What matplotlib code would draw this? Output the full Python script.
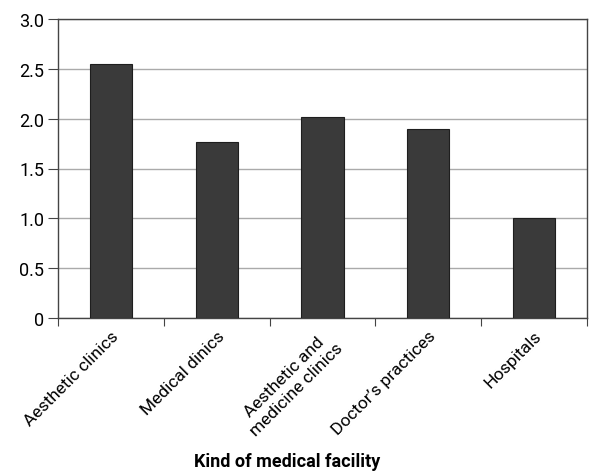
import numpy as np
import matplotlib.pyplot as plt
from matplotlib import font_manager

# data ##############################
categories = ['Aesthetic clinics', 'Medical dinics', 'Aesthetic and\nmedicine clinics',
              "Doctor\u2019s practices", 'Hospitals']
values = [2.55, 1.77, 2.02, 1.90, 1.00]
yticks = [0, 0.5, 1.0, 1.5, 2.0, 2.5, 3.0]
ytick_labels = ['0', '0.5', '1.0', '1.5', '2.0', '2.5', '3.0']
# data_end ##########################

names = {f.name for f in font_manager.fontManager.ttflist}
fam = 'Liberation Sans Narrow' if 'Liberation Sans Narrow' in names else 'Roboto'
plt.rcParams['font.family'] = [fam, 'DejaVu Sans']

fig = plt.figure(figsize=(5.89, 4.77), dpi=100, facecolor='w')
ax = fig.add_axes([58 / 589, 1 - 319 / 477, 529 / 589, 299 / 477])

x = np.arange(len(categories))
ax.bar(x, values, width=0.4, color='#3a3a3a', edgecolor='#1e1e1e', linewidth=0.8, zorder=3)

ax.set_xlim(-0.5, len(categories) - 0.5)
ax.set_ylim(0, 3.0)
ax.set_yticks(yticks)
ax.set_yticklabels(ytick_labels, fontsize=13)
ax.yaxis.grid(True, color='#aaaaaa', linewidth=1.0, zorder=0)

# ticks at category boundaries, labels at centers
ax.set_xticks(np.arange(len(categories) + 1) - 0.5)
ax.set_xticklabels([])
ax.set_xticks(x, minor=True)
ax.set_xticklabels(categories, minor=True, rotation=45, ha='right', va='top',
                   rotation_mode='anchor', fontsize=12.5, multialignment='center')
ax.tick_params(axis='x', which='minor', length=0, pad=7)
ax.tick_params(axis='x', which='major', length=6, color='#444444', direction='out')
ax.tick_params(axis='y', length=7, color='#444444', pad=3)

for s in ax.spines.values():
    s.set_color('#444444')
    s.set_linewidth(1.0)

fig.text(287 / 589, 1 - 462 / 477, 'Kind of medical facility', ha='center', va='center',
         fontsize=13, fontweight='bold')

fig.savefig('out.png', dpi=100, facecolor='w')
